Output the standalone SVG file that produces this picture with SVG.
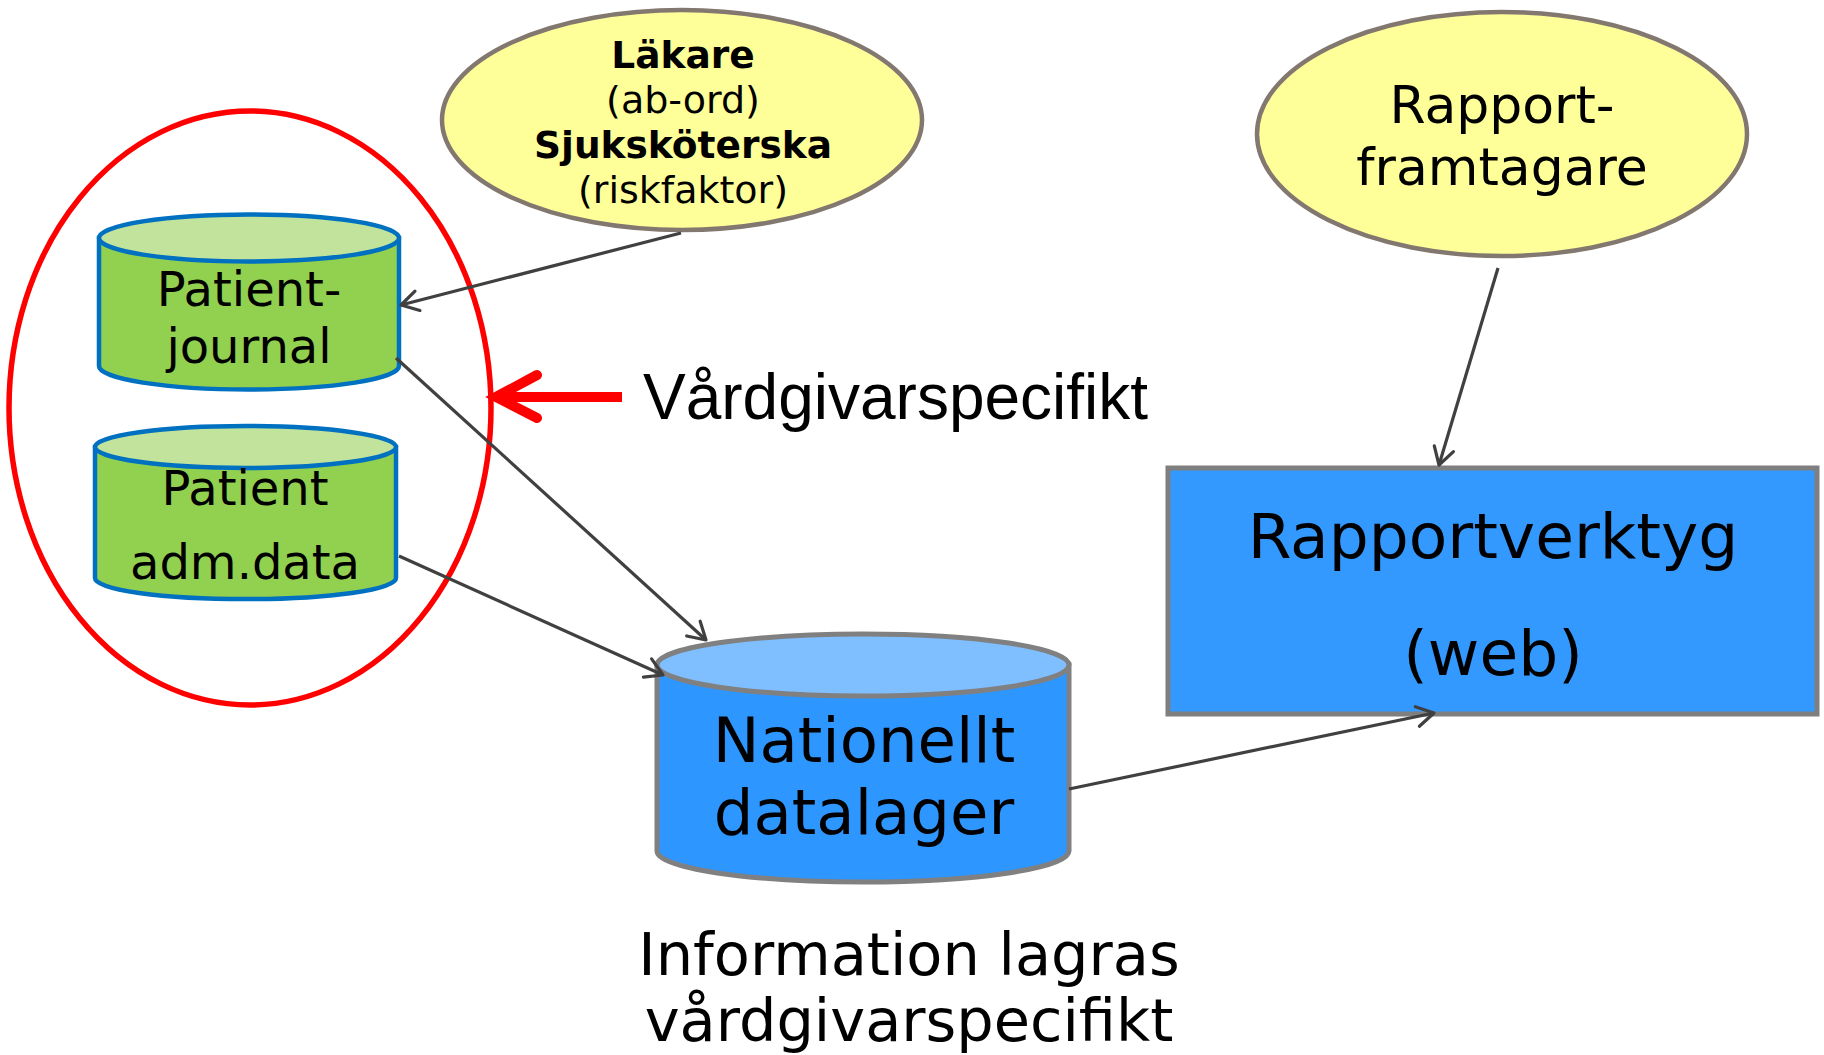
<svg xmlns="http://www.w3.org/2000/svg" width="1824" height="1055" viewBox="0 0 1824 1055">
<defs>
<style>
.t{font-family:"DejaVu Sans",Verdana,sans-serif;fill:#000;text-anchor:middle}
.conn{stroke:#404040;stroke-width:3.2;fill:none}
.gbody{fill:#92D050;stroke:#0070C0;stroke-width:4.5}
.gtop{fill:#C2E39B;stroke:#0070C0;stroke-width:4.5}
.actor{fill:#FFFF99;stroke:#827870;stroke-width:4.5}
</style>
<marker id="arr" markerUnits="userSpaceOnUse" markerWidth="30" markerHeight="30" viewBox="-22 -15 30 30" refX="0" refY="0" orient="auto">
<path d="M-17,-10 L0,0 L-17,10" fill="none" stroke="#404040" stroke-width="3.2" stroke-linecap="round" stroke-linejoin="round"/>
</marker>
</defs>
<rect width="1824" height="1055" fill="#fff"/>

<g id="group-vardgivare">
<ellipse cx="250" cy="408" rx="241" ry="297" fill="none" stroke="#FF0000" stroke-width="5.5"/>
</g>

<g id="patientjournal">
<path class="gbody" d="M99,238 L99,366 A150,23.5 0 0 0 399,366 L399,238 Z"/>
<ellipse class="gtop" cx="249" cy="238" rx="150" ry="23.5"/>
<text class="t" x="249" y="306" font-size="48">Patient-</text>
<text class="t" x="249" y="363" font-size="48">journal</text>
</g>

<g id="patientadm">
<path class="gbody" d="M95,447 L95,578 A150,21 0 0 0 396,578 L396,447 Z"/>
<ellipse class="gtop" cx="245.5" cy="447" rx="150.5" ry="21"/>
<text class="t" x="245" y="505" font-size="48">Patient</text>
<text class="t" x="245" y="579" font-size="48">adm.data</text>
</g>

<g id="lakare">
<ellipse class="actor" cx="682" cy="120" rx="240" ry="110"/>
<text class="t" x="683" y="68" font-size="37.5" font-weight="bold">Läkare</text>
<text class="t" x="683" y="113" font-size="38">(ab-ord)</text>
<text class="t" x="683" y="158" font-size="37.5" font-weight="bold">Sjuksköterska</text>
<text class="t" x="683" y="203" font-size="38">(riskfaktor)</text>
</g>

<g id="rapportframtagare">
<ellipse class="actor" cx="1502" cy="134" rx="245" ry="122"/>
<text class="t" x="1502" y="123" font-size="52">Rapport-</text>
<text class="t" x="1502" y="185" font-size="52">framtagare</text>
</g>

<g id="rapportverktyg">
<rect x="1168" y="468" width="649" height="246" fill="#3399FF" stroke="#7F7F7F" stroke-width="5"/>
<text class="t" x="1493" y="558" font-size="63" fill="#0D0D0D">Rapportverktyg</text>
<text class="t" x="1493" y="675" font-size="63" fill="#0D0D0D">(web)</text>
</g>

<g id="nationellt">
<path d="M657,665 L657,851 A206,31 0 0 0 1069,851 L1069,665 Z" fill="#2E96FF" stroke="#808080" stroke-width="5"/>
<ellipse cx="863" cy="665" rx="206" ry="31" fill="#7FBFFF" stroke="#808080" stroke-width="5"/>
<text class="t" x="864" y="762" font-size="62.5" fill="#0D0D0D">Nationellt</text>
<text class="t" x="864" y="834" font-size="62.5" fill="#0D0D0D">datalager</text>
</g>

<g id="label-vardgivarspecifikt">
<path d="M622,397 L500,397" stroke="#FF0000" stroke-width="10" fill="none"/>
<path d="M537,375 L496,397 L537,418" stroke="#FF0000" stroke-width="10" fill="none" stroke-linecap="round" stroke-linejoin="miter"/>
<text x="643" y="419" font-family="'Liberation Sans',Arial,sans-serif" font-size="64" fill="#000">Vårdgivarspecifikt</text>
</g>

<g id="label-information">
<text class="t" x="909" y="975" font-size="59">Information lagras</text>
<text class="t" x="909" y="1041" font-size="59">vårdgivarspecifikt</text>
</g>

<g id="connectors">
<line class="conn" x1="681" y1="233" x2="401" y2="305" marker-end="url(#arr)"/>
<line class="conn" x1="396" y1="358" x2="706" y2="640" marker-end="url(#arr)"/>
<line class="conn" x1="399" y1="556" x2="663" y2="675" marker-end="url(#arr)"/>
<line class="conn" x1="1498" y1="268" x2="1439" y2="465" marker-end="url(#arr)"/>
<line class="conn" x1="1069" y1="789" x2="1434" y2="713" marker-end="url(#arr)"/>
</g>
</svg>
